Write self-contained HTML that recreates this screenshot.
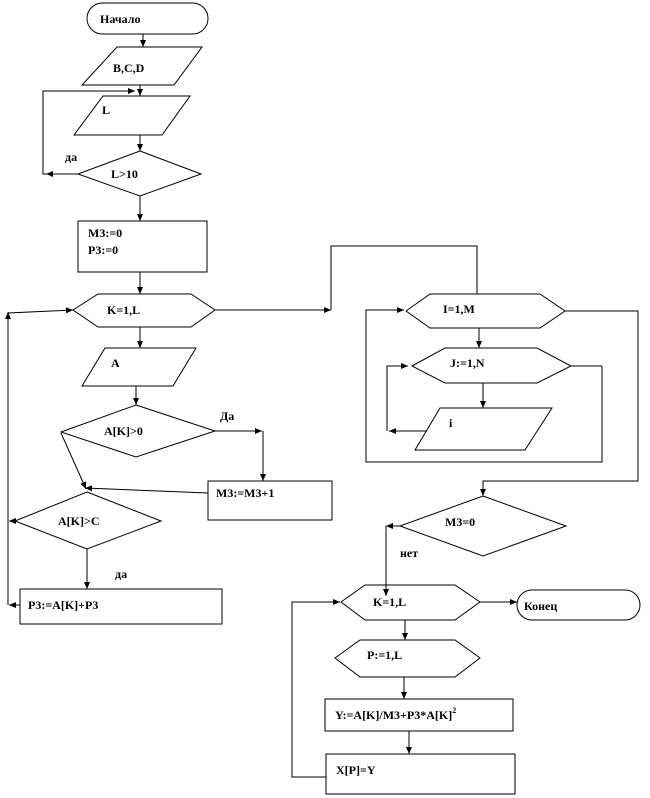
<!DOCTYPE html>
<html><head><meta charset="utf-8"><style>
html,body{margin:0;padding:0;background:#fff;}
svg{display:block;}
text{font-family:"Liberation Serif",serif;font-weight:bold;font-size:12px;fill:#000;}
</style></head><body>
<svg width="650" height="798" viewBox="0 0 650 798" xmlns="http://www.w3.org/2000/svg">
<defs><marker id="a" markerWidth="8" markerHeight="8" refX="7" refY="4" orient="auto" markerUnits="userSpaceOnUse"><path d="M0,1 L7,4 L0,7 z" fill="#000"/></marker></defs>
<g fill="none" stroke="#000" stroke-width="1">
<rect x="87" y="3" width="121" height="31" rx="15.5"/>
<line x1="143" y1="34" x2="143" y2="47" marker-end="url(#a)"/>
<polygon points="117,47 202,47 174,85 82,85"/>
<line x1="140" y1="85" x2="140" y2="96" marker-end="url(#a)"/>
<polyline points="78,174 43,174 43,91 135,91" marker-end="url(#a)"/>
<polygon points="103,96 190,96 162,135 74,135"/>
<line x1="140" y1="135" x2="140" y2="151" marker-end="url(#a)"/>
<polygon points="140,151 201,174 140,196 78,174"/>
<line x1="78" y1="174" x2="46" y2="174" marker-end="url(#a)"/>
<line x1="140" y1="196" x2="140" y2="221" marker-end="url(#a)"/>
<rect x="78" y="221" width="129" height="51"/>
<line x1="140" y1="272" x2="140" y2="294" marker-end="url(#a)"/>
<polygon points="73,310 98,294 191,294 215,310 191,327 98,327"/>
<line x1="215" y1="310" x2="331" y2="310" marker-end="url(#a)"/>
<polyline points="331,310 331,246 477,246 477,294"/>
<polyline points="8,605 8,313 73,310" marker-end="url(#a)"/>
<line x1="8" y1="330" x2="8" y2="312" marker-end="url(#a)"/>
<line x1="140" y1="327" x2="140" y2="348" marker-end="url(#a)"/>
<polygon points="105,348 196,348 173,386 82,386"/>
<line x1="136" y1="386" x2="136" y2="405" marker-end="url(#a)"/>
<polygon points="136,405 215,431 136,457 61,432"/>
<line x1="215" y1="431" x2="262" y2="431" marker-end="url(#a)"/>
<line x1="263" y1="431" x2="263" y2="481" marker-end="url(#a)"/>
<rect x="208" y="481" width="124" height="39"/>
<line x1="208" y1="493" x2="85" y2="488" marker-end="url(#a)"/>
<line x1="61" y1="433" x2="86" y2="489" marker-end="url(#a)"/>
<polygon points="87,492 161,521 87,549 15,521"/>
<line x1="15" y1="521" x2="9" y2="521" marker-end="url(#a)"/>
<line x1="87" y1="549" x2="87" y2="589" marker-end="url(#a)"/>
<rect x="20" y="589" width="202" height="35"/>
<line x1="20" y1="605" x2="9" y2="605" marker-end="url(#a)"/>
<polygon points="406,311 430,294 540,294 565,311 540,328 430,328"/>
<polyline points="602,366 602,462 366,462 366,310 404,310" marker-end="url(#a)"/>
<polyline points="565,311 638,311 638,481 483,481 483,496" marker-end="url(#a)"/>
<line x1="479" y1="328" x2="479" y2="348" marker-end="url(#a)"/>
<polygon points="412,366 445,348 537,348 571,366 537,383 445,383"/>
<line x1="571" y1="366" x2="602" y2="366"/>
<line x1="483" y1="383" x2="483" y2="408" marker-end="url(#a)"/>
<polygon points="440,408 552,408 525,450 415,450"/>
<line x1="427" y1="431" x2="389" y2="431" marker-end="url(#a)"/>
<polyline points="387,431 387,366 408,366" marker-end="url(#a)"/>
<polygon points="483,496 566,526 483,556 400,526"/>
<line x1="400" y1="526" x2="386" y2="526" marker-end="url(#a)"/>
<line x1="386" y1="526" x2="386" y2="596" marker-end="url(#a)"/>
<polygon points="341,602 365,585 455,585 480,602 455,620 365,620"/>
<line x1="480" y1="602" x2="517" y2="602" marker-end="url(#a)"/>
<rect x="517" y="590" width="123" height="30" rx="15"/>
<line x1="405" y1="620" x2="405" y2="640" marker-end="url(#a)"/>
<polygon points="335,658 360,640 455,640 480,658 455,677 360,677"/>
<line x1="404" y1="677" x2="404" y2="699" marker-end="url(#a)"/>
<rect x="325" y="699" width="188" height="32"/>
<line x1="409" y1="731" x2="409" y2="754" marker-end="url(#a)"/>
<rect x="326" y="754" width="189" height="40"/>
<polyline points="326,777 292,777 292,602 340,602" marker-end="url(#a)"/>
</g>
<text x="100" y="23">Начало</text>
<text x="113" y="72">B,C,D</text>
<text x="102" y="114">L</text>
<text x="65" y="161" font-size="10">да</text>
<text x="111" y="178">L&gt;10</text>
<text x="88" y="237">M3:=0</text>
<text x="88" y="254">P3:=0</text>
<text x="107" y="314">K=1,L</text>
<text x="111" y="367">A</text>
<text x="104" y="435">A[K]&gt;0</text>
<text x="220" y="420">Да</text>
<text x="216" y="497">M3:=M3+1</text>
<text x="58" y="525">A[K]&gt;C</text>
<text x="115" y="578" font-size="10">да</text>
<text x="28" y="609">P3:=A[K]+P3</text>
<text x="443" y="313">I=1,M</text>
<text x="450" y="367">J:=1,N</text>
<text x="449" y="427">i</text>
<text x="445" y="526">M3=0</text>
<text x="400" y="557" font-size="10">нет</text>
<text x="373" y="606">K=1,L</text>
<text x="524" y="610">Конец</text>
<text x="367" y="659">P:=1,L</text>
<text x="335" y="719">Y:=A[K]/M3+P3*A[K]<tspan dy="-6" font-size="8">2</tspan></text>
<text x="336" y="774">X[P]=Y</text>
</svg>
</body></html>
